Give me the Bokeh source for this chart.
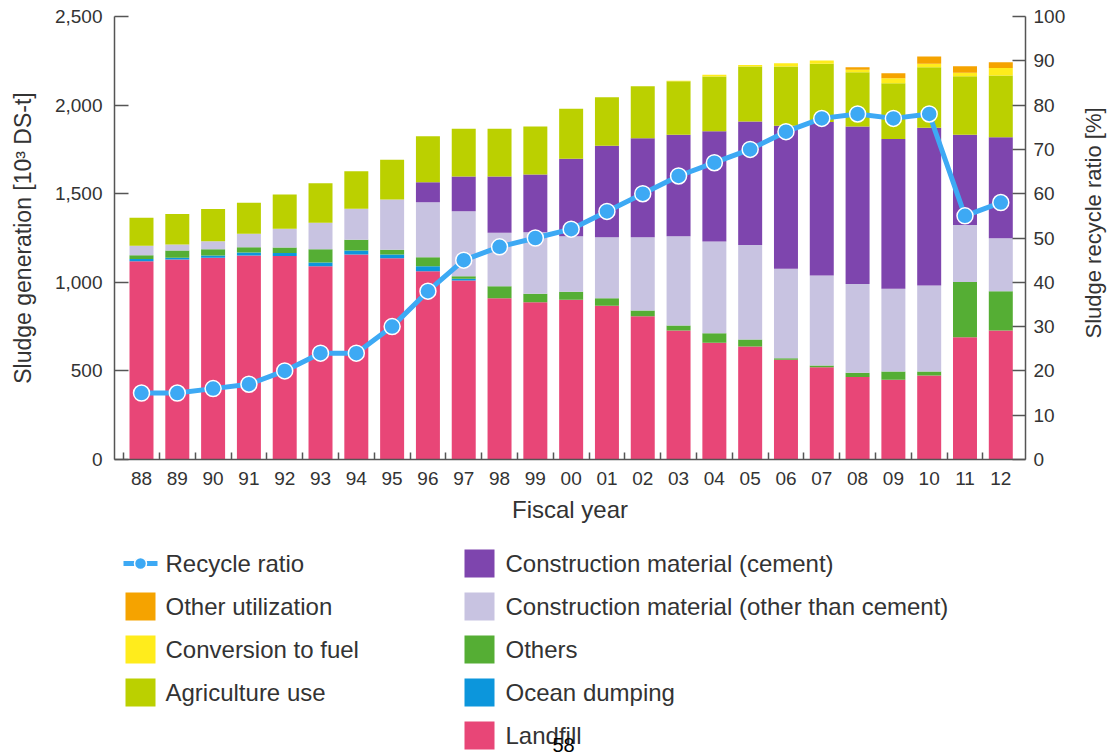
import math
from bokeh.plotting import figure
from bokeh.models import Range1d, LinearAxis, FixedTicker, NumeralTickFormatter, ColumnDataSource
from bokeh.layouts import column, row
from bokeh.embed import file_html
from bokeh.resources import INLINE
from bokeh.core.properties import value

years = ["88", "89", "90", "91", "92", "93", "94", "95", "96", "97", "98", "99",
         "00", "01", "02", "03", "04", "05", "06", "07", "08", "09", "10", "11", "12"]

landfill     = [1119, 1129, 1138, 1151, 1149, 1091, 1157, 1136, 1063, 1010, 910, 888,
                901, 867, 809, 728, 659, 638, 563, 521, 465, 450, 474, 690, 728]
ocean        = [13, 9, 13, 17, 17, 21, 22, 21, 28, 10, 0, 0,
                0, 0, 0, 0, 0, 0, 0, 0, 0, 0, 0, 0, 0]
others       = [21, 41, 36, 30, 30, 75, 61, 26, 51, 14, 68, 47,
                45, 43, 32, 28, 54, 39, 9, 9, 24, 47, 23, 311, 222]
constr_other = [53, 34, 45, 76, 106, 149, 175, 284, 310, 367, 301, 348,
                314, 344, 413, 504, 517, 534, 504, 508, 502, 466, 485, 323, 299]
cement       = [0, 0, 0, 0, 0, 0, 0, 0, 113, 196, 318, 325,
                437, 516, 559, 572, 623, 696, 807, 866, 888, 845, 890, 508, 570]
agriculture  = [158, 173, 181, 175, 193, 223, 212, 224, 259, 269, 269, 271,
                282, 274, 293, 303, 308, 311, 335, 329, 307, 316, 342, 331, 348]
fuel         = [0, 0, 0, 0, 0, 0, 0, 0, 0, 0, 0, 0,
                0, 0, 0, 3, 10, 9, 18, 19, 13, 28, 19, 19, 43]
other_util   = [0, 0, 0, 0, 0, 0, 0, 0, 0, 0, 0, 0,
                0, 0, 0, 0, 0, 0, 0, 0, 15, 28, 41, 37, 32]
recycle_ratio = [15, 15, 16, 17, 20, 24, 24, 30, 38, 45, 48, 50,
                 52, 56, 60, 64, 67, 70, 74, 77, 78, 77, 78, 55, 58]

left_ticks = [0, 500, 1000, 1500, 2000, 2500]
right_ticks = [0, 10, 20, 30, 40, 50, 60, 70, 80, 90, 100]

series_keys = ["landfill", "ocean", "others", "constr_other", "cement",
               "agriculture", "fuel", "other_util"]
series_names = ["Landfill", "Ocean dumping", "Others",
                "Construction material (other than cement)",
                "Construction material (cement)", "Agriculture use",
                "Conversion to fuel", "Other utilization"]
series_colors = ["#E84677", "#0C96DC", "#55AE34", "#C8C3E1", "#7E45AE",
                 "#BBD000", "#FFEC1C", "#F5A300"]
line_color = "#3DA9F4"

FONT = "Liberation Sans"
TXT = "#333333"
AX = "#555555"
TICK_FS = "19px"
TITLE_FS = "23px"
LEG_FS = "24px"

x = list(range(len(years)))
src = ColumnDataSource(dict(x=x, landfill=landfill, ocean=ocean, others=others,
                            constr_other=constr_other, cement=cement,
                            agriculture=agriculture, fuel=fuel, other_util=other_util))

W = 1110
FL, FR = 114, 1025   # frame left/right in page pixels
PW = 1070            # main figure width; the rest holds the right-axis title
H = 530
p = figure(width=PW, height=H, x_range=Range1d(-0.754, 24.69),
           y_range=Range1d(0, 2500), output_backend="svg", toolbar_location=None,
           min_border_left=FL, min_border_right=PW - FR, min_border_top=16,
           min_border_bottom=71)
p.outline_line_color = None
p.grid.visible = False

p.vbar_stack(series_keys, x="x", width=0.67, source=src,
             fill_color=series_colors, line_color=None)

p.extra_y_ranges = {"ratio": Range1d(0, 100)}
p.line(x, recycle_ratio, y_range_name="ratio", line_color=line_color, line_width=5)
p.scatter(x, recycle_ratio, y_range_name="ratio", size=16, fill_color=line_color,
          line_color="white", line_width=1.5)

# bottom axis
xa = p.xaxis[0]
xa.ticker = FixedTicker(ticks=x, minor_ticks=[i - 0.5 for i in x])
xa.major_label_overrides = {i: y for i, y in enumerate(years)}
xa.major_tick_in = 0
xa.major_tick_out = 0
xa.minor_tick_in = 7
xa.minor_tick_out = 0
xa.minor_tick_line_color = AX
xa.minor_tick_line_width = 1.5
xa.axis_line_color = AX
xa.axis_line_width = 1.5
xa.major_label_text_font = FONT
xa.major_label_text_font_size = TICK_FS
xa.major_label_text_color = TXT
xa.major_label_standoff = 12
xa.axis_label = "Fiscal year"
xa.axis_label_text_font = FONT
xa.axis_label_text_font_size = "24px"
xa.axis_label_text_font_style = "normal"
xa.axis_label_text_color = TXT
xa.axis_label_standoff = 8

# left axis
ya = p.yaxis[0]
ya.ticker = FixedTicker(ticks=left_ticks)
ya.formatter = NumeralTickFormatter(format="0,0")
ya.major_tick_in = 14
ya.major_tick_out = 0
ya.minor_tick_line_color = None
ya.major_tick_line_color = AX
ya.major_tick_line_width = 1.5
ya.axis_line_color = AX
ya.axis_line_width = 1.5
ya.major_label_text_font = FONT
ya.major_label_text_font_size = TICK_FS
ya.major_label_text_color = TXT
ya.major_label_standoff = 12
ya.axis_label = "Sludge generation [10³ DS-t]"
ya.axis_label_text_font = FONT
ya.axis_label_text_font_size = TITLE_FS
ya.axis_label_text_font_style = "normal"
ya.axis_label_text_color = TXT
ya.axis_label_standoff = 16

# right axis
ra = LinearAxis(y_range_name="ratio", ticker=FixedTicker(ticks=right_ticks))
ra.major_tick_in = 13
ra.major_tick_out = 0
ra.minor_tick_line_color = None
ra.major_tick_line_color = AX
ra.major_tick_line_width = 1.5
ra.axis_line_color = AX
ra.axis_line_width = 1.5
ra.major_label_text_font = FONT
ra.major_label_text_font_size = TICK_FS
ra.major_label_text_color = TXT
ra.major_label_standoff = 8
p.add_layout(ra, "right")

# narrow figure holding the right-axis title, reading bottom-to-top
RW = W - PW
R = figure(width=RW, height=H, x_range=Range1d(PW, W), y_range=Range1d(H, 0),
           output_backend="svg", toolbar_location=None, min_border=0)
R.axis.visible = False
R.grid.visible = False
R.outline_line_color = None
R.text([1093], [247], text=["Sludge recycle ratio [%]"], angle=math.pi / 2,
       text_align="center", text_baseline="middle", text_font=value(FONT),
       text_font_size="22px", text_color=TXT)

# legend figure (page pixel coordinates)
LT, LB = 530, 755
L = figure(width=W, height=LB - LT, x_range=Range1d(FL, FR), y_range=Range1d(LB, LT),
           output_backend="svg", toolbar_location=None,
           min_border_left=FL, min_border_right=W - FR, min_border_top=0,
           min_border_bottom=0)
L.axis.visible = False
L.grid.visible = False
L.outline_line_color = None

rows = [563, 606, 649, 692, 735]
col1_icon, col1_text = 140, 165
col2_icon, col2_text = 479, 505

L.line([col1_icon - 17, col1_icon + 17], [rows[0], rows[0]], line_color=line_color, line_width=5)
L.scatter([col1_icon], [rows[0]], size=12, fill_color=line_color, line_color="white", line_width=1.5)
col1_idx = [7, 6, 5]
col2_idx = [4, 3, 2, 1, 0]
L.rect([col1_icon] * 3, rows[1:4], width=30, height=28,
       fill_color=[series_colors[i] for i in col1_idx], line_color=None)
L.text([col1_text] * 4, rows[:4],
       text=["Recycle ratio"] + [series_names[i] for i in col1_idx],
       text_baseline="middle", text_font=value(FONT), text_font_size=LEG_FS,
       text_color=TXT)
L.rect([col2_icon] * 5, rows, width=30, height=28,
       fill_color=[series_colors[i] for i in col2_idx], line_color=None)
L.text([col2_text] * 5, rows, text=[series_names[i] for i in col2_idx],
       text_baseline="middle", text_font=value(FONT), text_font_size=LEG_FS,
       text_color=TXT)
L.text([563], [737], text=["58"], text_align="center", text_baseline="top",
       text_font=value(FONT), text_font_size="20px", text_color="black")

layout = column(row(p, R, spacing=0), L, spacing=0)
open("out.html", "w").write(file_html(layout, INLINE))
